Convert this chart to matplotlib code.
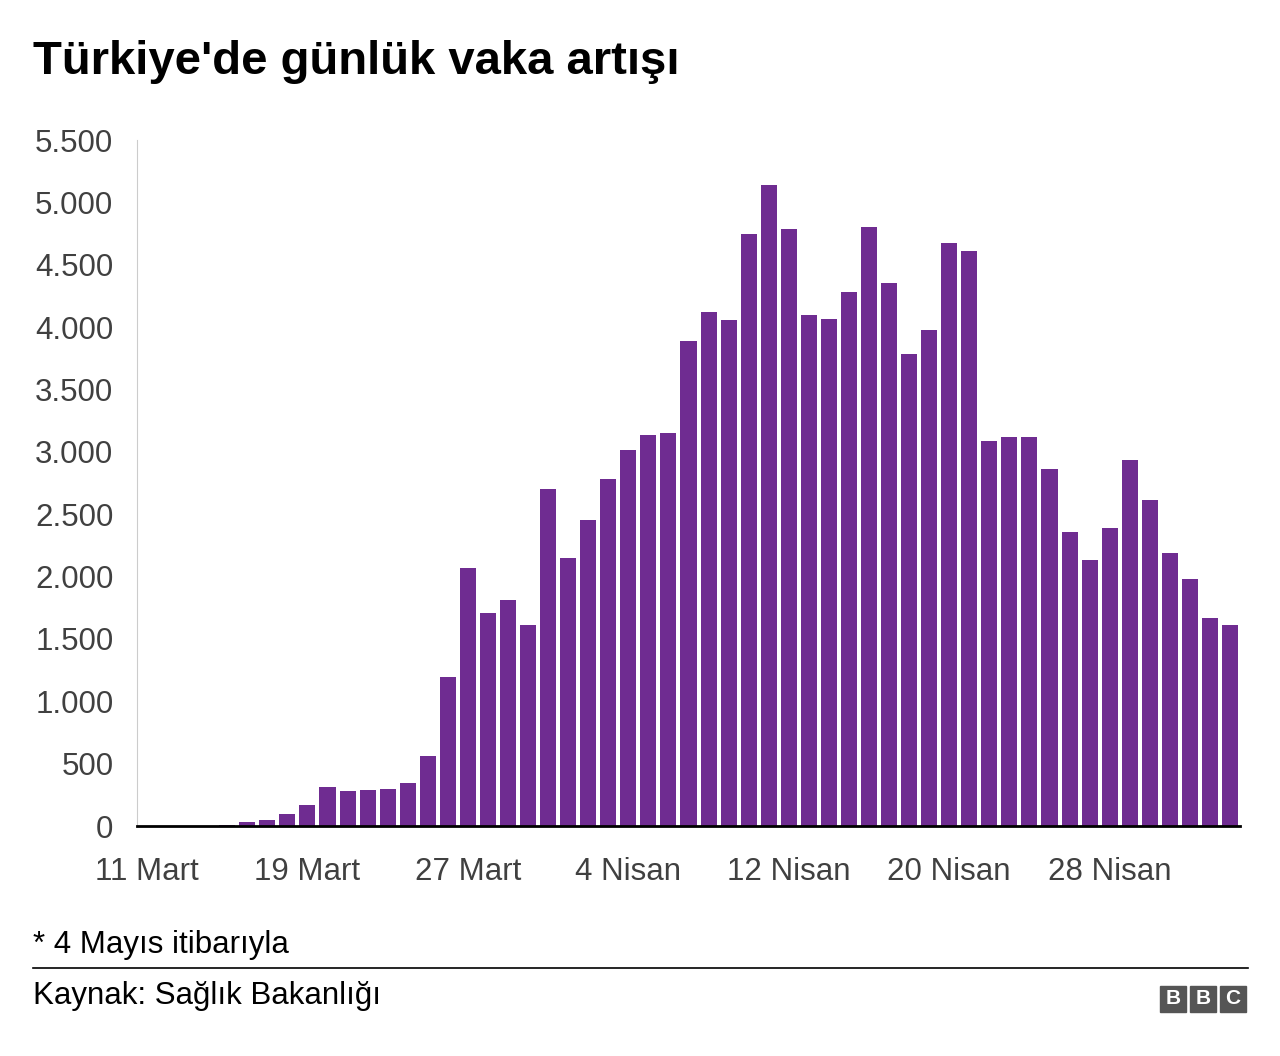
import matplotlib
matplotlib.use("Agg")
import matplotlib.pyplot as plt
import numpy as np

# daily new cases, 11 Mart - 4 Mayıs
mart = [1, 0, 4, 1, 12, 29, 51, 93, 168, 311, 277, 289, 293, 343, 561, 1196,
        2069, 1704, 1815, 1610, 2704]
nisan = [2148, 2456, 2786, 3013, 3135, 3148, 3892, 4117, 4056, 4747, 5138, 4789,
         4093, 4062, 4281, 4801, 4353, 3783, 3977, 4674, 4611, 3083, 3116, 3122,
         2861, 2357, 2131, 2392, 2936, 2615]
mayis = [2188, 1983, 1670, 1614]
cases = mart + nisan + mayis

tick_pos = [0, 8, 16, 24, 32, 40, 48]
tick_labels = ["11 Mart", "19 Mart", "27 Mart", "4 Nisan", "12 Nisan", "20 Nisan", "28 Nisan"]
y_ticks = np.arange(0, 5501, 500)

plt.rcParams["font.family"] = ["Liberation Sans", "DejaVu Sans"]
fig = plt.figure(figsize=(12.8, 10.56), dpi=100)
ax = fig.add_axes([137 / 1280, 1 - 826 / 1056, 1103 / 1280, 686 / 1056])

x = np.arange(len(cases))
ax.bar(x, cases, width=0.8, color="#6f2c91")
ax.set_xlim(-0.5, len(cases) - 0.5)
ax.set_ylim(0, 5500)
ax.set_yticks(y_ticks)
ax.set_yticklabels([f"{v:,}".replace(",", ".") for v in y_ticks])
ax.set_xticks(tick_pos)
ax.set_xticklabels(tick_labels)
ax.tick_params(axis="both", length=0, labelsize=22.5, colors="#404040")
ax.tick_params(axis="x", pad=22)
ax.tick_params(axis="y", pad=22)
for s in ["top", "right"]:
    ax.spines[s].set_visible(False)
ax.spines["left"].set_color("#cccccc")
ax.spines["bottom"].set_color("black")
ax.spines["bottom"].set_linewidth(2)
for lbl in ax.get_yticklabels():
    lbl.set_x(-0.0 + 7 / 1103)

fig.text(33 / 1280, 1 - 62 / 1056, "Türkiye'de günlük vaka artışı", fontsize=34,
         fontweight="bold", va="center")
fig.text(33 / 1280, 1 - 945 / 1056, "* 4 Mayıs itibarıyla", fontsize=22.5, va="center")
fig.add_artist(plt.Line2D([33 / 1280, 1248 / 1280], [1 - 968 / 1056] * 2,
                          color="black", linewidth=1.2))
fig.text(33 / 1280, 1 - 996 / 1056, "Kaynak: Sağlık Bakanlığı", fontsize=22.5, va="center")
for i, ch in enumerate("BBC"):
    bx = (1160 + i * 30) / 1280
    fig.add_artist(plt.Rectangle((bx, 1 - 1012 / 1056), 26 / 1280, 26 / 1056,
                                 color="#555555"))
    fig.text(bx + 13 / 1280, 1 - 999 / 1056, ch, color="white", fontsize=15,
             fontweight="bold", ha="center", va="center")

fig.savefig("out.png", dpi=100)
